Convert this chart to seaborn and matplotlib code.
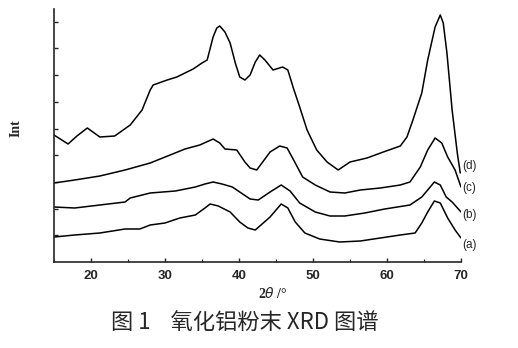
import numpy as np
import pandas as pd
import matplotlib
matplotlib.use("Agg")
import matplotlib.pyplot as plt
import seaborn as sns

# ---- data (2theta in degrees, intensity in arbitrary offset units) ----
tt_d = [15.0, 16.9, 18.1, 19.5, 21.2, 23.2, 25.3, 26.9, 28.0, 28.4, 30.3, 31.6, 33.8, 35.0,
        35.7, 36.5, 37.0, 37.4, 38.1, 38.8, 39.5, 40.1, 40.8, 41.5, 42.2, 42.8, 43.5, 44.6,
        45.9, 46.6, 47.3, 48.2, 49.2, 50.5, 51.9, 53.4, 55.0, 57.3, 59.5, 61.8, 62.7, 63.5,
        64.7, 65.5, 66.5, 67.2, 67.6, 68.1, 68.8, 69.5, 69.9]
int_d = [127, 118, 126, 134, 125, 126, 137, 152, 172, 177, 182, 185, 193, 199,
         202, 225, 234, 236, 230, 219, 199, 185, 182, 187, 200, 207, 202, 192,
         195, 192, 175, 155, 132, 112, 100, 92, 100, 104, 110, 116, 125, 142,
         169, 202, 235, 247, 239, 209, 152, 109, 89]

tt_c = [15.0, 17.8, 21.2, 24.6, 28.0, 30.7, 32.7, 34.7, 36.5, 37.4, 38.1, 39.7, 40.8, 41.5,
        42.4, 44.2, 45.5, 46.5, 47.6, 48.6, 50.3, 52.3, 54.3, 56.4, 59.1, 61.8, 63.1, 64.5,
        65.5, 66.5, 67.4, 68.2, 69.2, 70.0]
int_c = [79, 82, 86, 92, 99, 107, 113, 117, 123, 119, 113, 112, 100, 94,
         92, 110, 116, 114, 99, 85, 77, 70, 69, 72, 74, 77, 80, 95,
         112, 124, 119, 105, 92, 75]

tt_b = [15.0, 17.8, 21.2, 24.6, 25.3, 28.0, 31.4, 34.1, 35.4, 36.5, 37.7, 39.1, 40.1, 41.5,
        42.6, 44.2, 45.7, 46.9, 48.2, 50.3, 52.3, 54.3, 57.0, 59.7, 63.1, 64.7, 65.5, 66.4,
        67.2, 68.0, 68.8, 70.0]
int_b = [55, 54, 57, 60, 64, 69, 71, 75, 78, 80, 78, 75, 70, 63,
         62, 70, 77, 71, 59, 50, 46, 46, 49, 53, 57, 65, 72, 80,
         77, 65, 60, 50]

tt_a = [15.0, 17.8, 21.2, 24.6, 26.6, 28.0, 30.0, 32.0, 34.1, 35.4, 36.1, 37.2, 38.8, 40.1,
        41.2, 42.2, 44.2, 45.7, 46.6, 47.6, 48.9, 50.9, 53.6, 56.4, 59.1, 61.8, 63.8, 64.7,
        65.5, 66.4, 67.2, 68.2, 69.2, 70.0]
int_a = [25, 27, 29, 33, 33, 37, 39, 44, 47, 54, 58, 56, 50, 40,
         34, 32, 45, 58, 54, 40, 29, 23, 20, 21, 24, 27, 29, 39,
         50, 61, 59, 44, 32, 24]

curve_labels = ["(a)", "(b)", "(c)", "(d)"]
label_y = [17, 47, 74, 96]
x_ticks = [20, 30, 40, 50, 60, 70]

# ---- plotting ----
sns.set_theme(style="ticks")
plt.rcParams["font.family"] = ["Liberation Sans", "DejaVu Sans"]

fig = plt.figure(figsize=(5.18, 3.48), dpi=100)
ax = fig.add_axes([54 / 518, 86 / 348, (461 - 54) / 518, (262 - 9) / 348])

for tt, it in [(tt_a, int_a), (tt_b, int_b), (tt_c, int_c), (tt_d, int_d)]:
    sns.lineplot(x=tt, y=it, ax=ax, color="black", linewidth=1.1, sort=False)

ax.set_xlim(15, 70)
ax.set_ylim(0, 253)
ax.set_xticks(x_ticks)
ax.set_xticks(np.arange(15, 71, 5), minor=True)
ax.set_yticks(np.arange(1, 10) * 26.7)
ax.set_yticklabels([])
ax.tick_params(axis="x", direction="in", length=3, width=1, labelsize=9.5, pad=6)
ax.tick_params(axis="x", which="minor", direction="in", length=2, width=0.8)
ax.tick_params(axis="y", direction="in", length=3, width=1)
for lbl in ax.get_xticklabels():
    lbl.set_fontweight("bold")
sns.despine(ax=ax)
ax.spines["left"].set_linewidth(1.2)
ax.spines["bottom"].set_linewidth(1.2)

for lab, yy in zip(curve_labels, label_y):
    ax.text(70.2, yy, lab, fontsize=8.5, va="center", ha="left", clip_on=False)

ax.set_xlabel("")
ax.set_ylabel("")
fig.text(273 / 518, 1 - 293 / 348, r"2$\theta$ /°", ha="center", va="center",
         fontsize=10, family=["Liberation Serif", "DejaVu Serif"], fontweight="bold")
fig.text(16 / 518, 1 - 128 / 348, "Int", ha="center", va="center", rotation=90,
         fontsize=10, family=["Liberation Serif", "DejaVu Serif"], fontweight="bold")
fig.text(245 / 518, 1 - 322 / 348, "图 1    氧化铝粉末 XRD 图谱", ha="center", va="center",
         fontsize=16, fontweight="medium", family=["Noto Sans CJK SC", "DejaVu Sans"])

fig.savefig("out.png", dpi=100)
